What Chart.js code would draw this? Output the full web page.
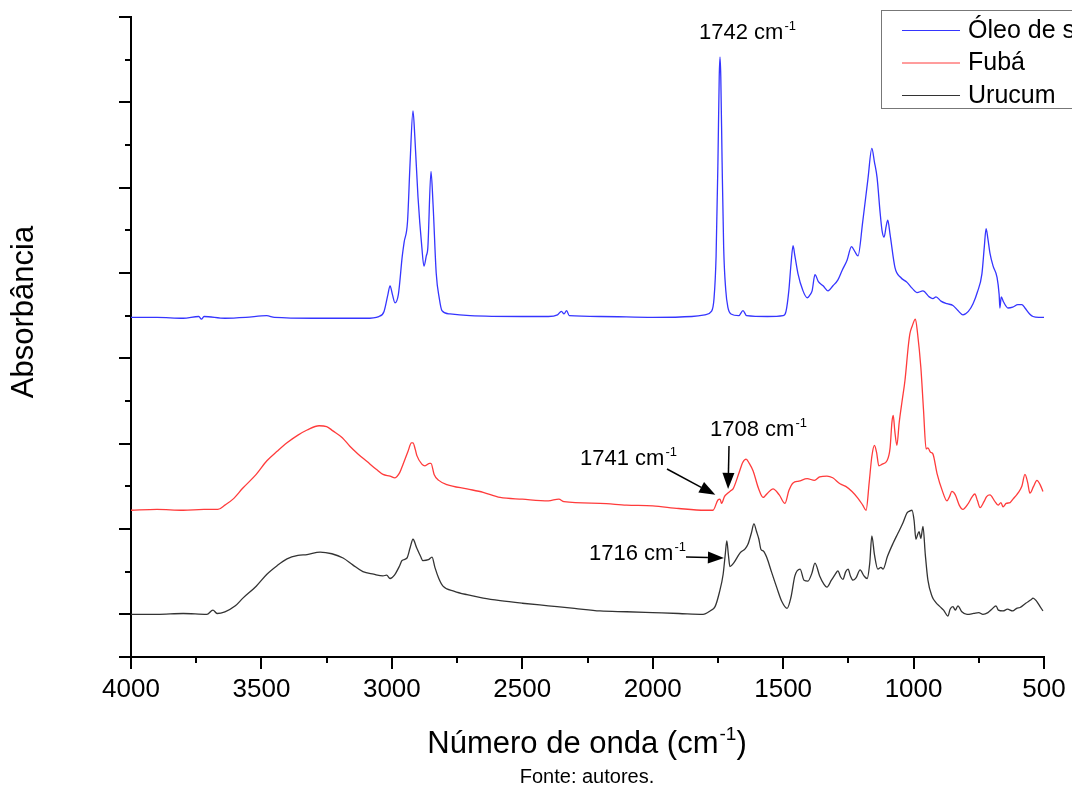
<!DOCTYPE html>
<html lang="pt">
<head>
<meta charset="UTF-8">
<title>Espectros FTIR</title>
<script src="https://cdn.jsdelivr.net/npm/chart.js"></script>
<style>
  body { margin: 0; background: #fff; }
  #grafico { display: block; }
</style>
</head>
<body>
<canvas id="grafico" width="1072" height="788"></canvas>
<script>
// Número de onda (cm-1) e absorbância (deslocada) de cada amostra
const oleoX = [4000, 3900, 3800, 3740, 3730, 3720, 3640, 3560, 3480, 3450, 3300, 3100, 3050, 3030, 3015, 3007, 2998, 2988, 2975, 2960, 2953, 2940, 2930, 2919, 2912, 2900, 2885, 2877, 2868, 2862, 2850, 2842, 2830, 2818, 2808, 2777, 2700, 2500, 2400, 2365, 2350, 2340, 2330, 2320, 2200, 2000, 1850, 1800, 1775, 1765, 1757, 1750, 1745, 1742, 1739, 1734, 1728, 1720, 1712, 1700, 1670, 1654, 1640, 1560, 1500, 1489, 1478, 1470, 1462, 1455, 1443, 1425, 1408, 1398, 1389, 1378, 1365, 1347, 1328, 1309, 1290, 1274, 1255, 1238, 1225, 1213, 1195, 1175, 1160, 1150, 1140, 1128, 1121, 1113, 1105, 1099, 1090, 1071, 1050, 1025, 1005, 987, 964, 940, 926, 914, 895, 872, 849, 830, 811, 790, 772, 755, 738, 729, 722, 715, 707, 695, 680, 672, 669, 664, 655, 638, 620, 600, 585, 573, 555, 542, 520, 500];
const oleoY = [3.48, 3.48, 3.47, 3.49, 3.46, 3.49, 3.47, 3.48, 3.50, 3.48, 3.47, 3.47, 3.49, 3.55, 3.75, 3.85, 3.75, 3.65, 3.75, 4.2, 4.36, 4.6, 5.3, 5.90, 5.6, 4.9, 4.3, 4.08, 4.2, 4.30, 5.19, 4.8, 4.0, 3.7, 3.56, 3.52, 3.50, 3.49, 3.49, 3.51, 3.55, 3.52, 3.56, 3.50, 3.49, 3.48, 3.49, 3.51, 3.55, 3.7, 4.2, 5.3, 6.3, 6.53, 6.3, 5.3, 4.3, 3.8, 3.6, 3.52, 3.50, 3.56, 3.50, 3.49, 3.50, 3.55, 3.8, 4.1, 4.32, 4.2, 3.99, 3.8, 3.71, 3.74, 3.79, 3.98, 3.9, 3.85, 3.79, 3.85, 3.92, 4.03, 4.15, 4.31, 4.25, 4.20, 4.6, 5.1, 5.46, 5.3, 5.12, 4.7, 4.50, 4.42, 4.55, 4.62, 4.45, 4.06, 3.95, 3.89, 3.82, 3.77, 3.79, 3.72, 3.70, 3.72, 3.67, 3.64, 3.62, 3.56, 3.51, 3.55, 3.64, 3.78, 3.99, 4.3, 4.52, 4.4, 4.23, 4.08, 3.95, 3.75, 3.59, 3.72, 3.66, 3.59, 3.60, 3.63, 3.63, 3.59, 3.52, 3.49, 3.48, 3.48];

const fubaX = [4000, 3900, 3800, 3720, 3667, 3640, 3609, 3571, 3520, 3479, 3440, 3402, 3360, 3325, 3279, 3250, 3226, 3190, 3161, 3130, 3095, 3060, 3034, 3007, 2988, 2970, 2957, 2938, 2925, 2919, 2910, 2904, 2885, 2873, 2855, 2850, 2838, 2820, 2789, 2712, 2650, 2585, 2500, 2400, 2360, 2340, 2202, 2100, 2000, 1900, 1800, 1769, 1750, 1742, 1736, 1725, 1716, 1700, 1692, 1670, 1655, 1642, 1630, 1615, 1595, 1577, 1560, 1539, 1515, 1493, 1478, 1462, 1440, 1408, 1380, 1360, 1332, 1310, 1282, 1260, 1236, 1213, 1195, 1182, 1170, 1160, 1150, 1142, 1133, 1120, 1102, 1090, 1083, 1078, 1072, 1064, 1055, 1044, 1033, 1020, 1014, 1005, 993, 985, 972, 962, 952, 945, 935, 926, 910, 890, 872, 862, 853, 840, 825, 811, 790, 775, 765, 755, 745, 730, 720, 707, 690, 676, 665, 657, 645, 630, 619, 605, 600, 585, 573, 563, 554, 540, 527, 515, 504];
const fubaY = [1.22, 1.23, 1.22, 1.23, 1.23, 1.28, 1.35, 1.48, 1.64, 1.80, 1.91, 2.01, 2.10, 2.16, 2.21, 2.20, 2.15, 2.07, 1.97, 1.88, 1.79, 1.70, 1.64, 1.62, 1.60, 1.66, 1.76, 1.91, 2.01, 2.01, 1.93, 1.86, 1.76, 1.74, 1.77, 1.77, 1.64, 1.57, 1.52, 1.47, 1.43, 1.37, 1.35, 1.33, 1.35, 1.32, 1.30, 1.28, 1.27, 1.24, 1.22, 1.22, 1.34, 1.35, 1.30, 1.38, 1.41, 1.45, 1.47, 1.65, 1.78, 1.82, 1.77, 1.68, 1.48, 1.37, 1.42, 1.47, 1.40, 1.30, 1.45, 1.54, 1.56, 1.59, 1.57, 1.61, 1.62, 1.60, 1.53, 1.50, 1.44, 1.36, 1.28, 1.22, 1.55, 1.85, 1.98, 1.90, 1.74, 1.76, 1.80, 1.95, 2.25, 2.33, 2.15, 1.98, 2.25, 2.50, 2.74, 3.15, 3.29, 3.38, 3.46, 3.30, 2.89, 2.40, 1.94, 1.95, 1.90, 1.88, 1.65, 1.45, 1.33, 1.38, 1.44, 1.40, 1.28, 1.23, 1.30, 1.38, 1.41, 1.33, 1.25, 1.32, 1.38, 1.40, 1.33, 1.28, 1.31, 1.26, 1.30, 1.31, 1.35, 1.40, 1.42, 1.50, 1.64, 1.55, 1.42, 1.50, 1.57, 1.52, 1.44];

const urucumX = [4000, 3900, 3800, 3709, 3686, 3670, 3640, 3600, 3571, 3520, 3479, 3440, 3402, 3360, 3325, 3275, 3230, 3187, 3150, 3111, 3070, 3034, 3020, 3007, 2990, 2970, 2961, 2942, 2930, 2919, 2905, 2890, 2881, 2860, 2846, 2835, 2820, 2804, 2760, 2712, 2650, 2585, 2500, 2400, 2300, 2202, 2100, 2000, 1900, 1807, 1780, 1761, 1745, 1730, 1722, 1716, 1710, 1704, 1690, 1665, 1645, 1635, 1622, 1612, 1602, 1593, 1585, 1575, 1562, 1545, 1524, 1505, 1485, 1470, 1455, 1435, 1420, 1405, 1390, 1378, 1360, 1345, 1332, 1315, 1300, 1290, 1280, 1271, 1260, 1251, 1242, 1232, 1220, 1205, 1190, 1178, 1168, 1160, 1150, 1137, 1125, 1117, 1100, 1079, 1060, 1041, 1025, 1015, 1006, 998, 991, 985, 979, 972, 964, 955, 945, 929, 915, 899, 885, 868, 860, 849, 840, 830, 815, 795, 770, 750, 734, 715, 700, 684, 675, 657, 640, 620, 605, 592, 570, 550, 542, 530, 515, 504];
const urucumY = [0.0, 0.0, 0.01, 0.0, 0.05, 0.01, 0.03, 0.10, 0.19, 0.33, 0.47, 0.57, 0.65, 0.69, 0.70, 0.73, 0.71, 0.66, 0.58, 0.50, 0.47, 0.45, 0.46, 0.42, 0.46, 0.57, 0.63, 0.66, 0.78, 0.88, 0.78, 0.68, 0.63, 0.64, 0.67, 0.55, 0.42, 0.33, 0.27, 0.23, 0.19, 0.16, 0.13, 0.10, 0.07, 0.04, 0.03, 0.02, 0.01, 0.0, 0.04, 0.09, 0.25, 0.47, 0.70, 0.86, 0.70, 0.56, 0.60, 0.72, 0.77, 0.82, 0.95, 1.06, 0.97, 0.88, 0.76, 0.74, 0.66, 0.50, 0.31, 0.15, 0.07, 0.20, 0.45, 0.53, 0.40, 0.39, 0.48, 0.60, 0.45, 0.36, 0.32, 0.40, 0.47, 0.51, 0.44, 0.41, 0.50, 0.53, 0.45, 0.40, 0.43, 0.52, 0.45, 0.42, 0.60, 0.92, 0.70, 0.53, 0.55, 0.53, 0.68, 0.83, 0.95, 1.07, 1.19, 1.21, 1.22, 1.10, 0.88, 0.93, 0.97, 0.89, 1.03, 0.70, 0.40, 0.21, 0.14, 0.09, 0.05, -0.02, 0.06, 0.09, 0.05, 0.10, 0.03, 0.0, 0.01, 0.02, 0.0, 0.02, 0.06, 0.10, 0.05, 0.04, 0.06, 0.04, 0.07, 0.08, 0.13, 0.17, 0.19, 0.16, 0.09, 0.04];

const amostras = ['Óleo de soja', 'Fubá', 'Urucum'];
const cores = ['#3535ff', '#ff3b3b', '#333333'];

const FONTE = '"Liberation Sans", Arial, sans-serif';

function pontos(xs, ys) {
    return xs.map((w, i) => ({ x: w, y: ys[i] }));
}

// texto com expoente (cm-1)
function textoSup(ctx, base, sup, depois, x, y, tam, alinhar) {
    const tamSup = Math.round(tam * 0.6);
    ctx.font = `${tam}px ${FONTE}`;
    const wb = ctx.measureText(base).width;
    const wd = ctx.measureText(depois).width;
    ctx.font = `${tamSup}px ${FONTE}`;
    const ws = ctx.measureText(sup).width;
    let x0 = alinhar === 'center' ? x - (wb + ws + wd + 1) / 2 : x;
    ctx.textAlign = 'left';
    ctx.textBaseline = 'alphabetic';
    ctx.font = `${tam}px ${FONTE}`;
    ctx.fillText(base, x0, y);
    ctx.font = `${tamSup}px ${FONTE}`;
    ctx.fillText(sup, x0 + wb + 1, y - tam * 0.42);
    ctx.font = `${tam}px ${FONTE}`;
    ctx.fillText(depois, x0 + wb + ws + 1, y);
}

function seta(ctx, x1, y1, x2, y2) {
    const ang = Math.atan2(y2 - y1, x2 - x1);
    const L = 16, W = 6;
    const bx = x2 - L * Math.cos(ang), by = y2 - L * Math.sin(ang);
    ctx.beginPath();
    ctx.moveTo(x1, y1);
    ctx.lineTo(bx, by);
    ctx.stroke();
    ctx.beginPath();
    ctx.moveTo(x2, y2);
    ctx.lineTo(bx + W * Math.sin(ang), by - W * Math.cos(ang));
    ctx.lineTo(bx - W * Math.sin(ang), by + W * Math.cos(ang));
    ctx.closePath();
    ctx.fill();
}

const extras = {
    id: 'extras',
    afterDraw(chart) {
        const { ctx, chartArea: a } = chart;
        const x = chart.scales.x, y = chart.scales.y;
        ctx.save();
        ctx.strokeStyle = '#000';
        ctx.fillStyle = '#000';
        ctx.lineWidth = 2;

        // marcas dos eixos (maiores e menores)
        for (let w = 500; w <= 4000; w += 250) {
            const px = Math.round(x.getPixelForValue(w));
            const len = w % 500 === 0 ? 12 : 6;
            ctx.beginPath();
            ctx.moveTo(px, a.bottom);
            ctx.lineTo(px, a.bottom + len);
            ctx.stroke();
        }
        for (let v = -0.5; v <= 7; v += 0.5) {
            const py = Math.round(y.getPixelForValue(v));
            const len = (Number.isInteger(v) || v === -0.5) ? 12 : 6;
            ctx.beginPath();
            ctx.moveTo(a.left, py);
            ctx.lineTo(a.left - len, py);
            ctx.stroke();
        }

        // títulos
        textoSup(ctx, 'Número de onda (cm', '-1', ')', 587, 753, 31, 'center');
        ctx.font = `20px ${FONTE}`;
        ctx.textAlign = 'center';
        ctx.fillText('Fonte: autores.', 587, 783);

        ctx.save();
        ctx.translate(24, 312);
        ctx.rotate(-Math.PI / 2);
        ctx.font = `31px ${FONTE}`;
        ctx.textAlign = 'center';
        ctx.textBaseline = 'middle';
        ctx.fillText('Absorbância', 0, 0);
        ctx.restore();

        // anotações dos picos
        textoSup(ctx, '1742 cm', '-1', '', x.getPixelForValue(1742) - 21, 39, 22, 'left');
        textoSup(ctx, '1708 cm', '-1', '', 710, 436, 22, 'left');
        textoSup(ctx, '1741 cm', '-1', '', 580, 465, 22, 'left');
        textoSup(ctx, '1716 cm', '-1', '', 589, 560, 22, 'left');
        ctx.lineWidth = 1.5;
        seta(ctx, 667, 469, x.getPixelForValue(1760), y.getPixelForValue(1.40));
        seta(ctx, 729, 446, x.getPixelForValue(1711), y.getPixelForValue(1.47));
        seta(ctx, 686, 557, x.getPixelForValue(1727), y.getPixelForValue(0.66));

        // legenda
        ctx.lineWidth = 1;
        ctx.strokeStyle = '#777';
        ctx.strokeRect(881.5, 10.5, 260, 98);
        ctx.font = `25px ${FONTE}`;
        ctx.textAlign = 'left';
        ctx.textBaseline = 'middle';
        amostras.forEach((nome, i) => {
            const ly = 30 + i * 32.5;
            ctx.strokeStyle = cores[i];
            ctx.beginPath();
            ctx.moveTo(902, ly + 0.5);
            ctx.lineTo(960, ly + 0.5);
            ctx.stroke();
            ctx.fillStyle = '#000';
            ctx.fillText(nome, 968, ly + 1);
        });
        ctx.restore();
    }
};

new Chart(document.getElementById('grafico'), {
    type: 'line',
    data: {
        datasets: [
            { label: amostras[0], data: pontos(oleoX, oleoY), borderColor: cores[0] },
            { label: amostras[1], data: pontos(fubaX, fubaY), borderColor: cores[1] },
            { label: amostras[2], data: pontos(urucumX, urucumY), borderColor: cores[2] }
        ]
    },
    options: {
        responsive: false,
        animation: false,
        devicePixelRatio: 1,
        layout: { padding: { top: 17, right: 28, left: 0, bottom: 0 } },
        elements: {
            point: { radius: 0 },
            line: { borderWidth: 1.3, cubicInterpolationMode: 'monotone' }
        },
        plugins: { legend: { display: false }, tooltip: { enabled: false } },
        scales: {
            x: {
                type: 'linear',
                reverse: true,
                min: 500,
                max: 4000,
                grid: { display: false, drawTicks: false },
                border: { display: true, color: '#000', width: 2 },
                ticks: {
                    stepSize: 500,
                    autoSkip: false,
                    maxRotation: 0,
                    padding: 17,
                    color: '#000',
                    font: { family: FONTE, size: 26 },
                    callback: v => String(v)
                },
                afterFit: s => {
                    s.height = 131;
                    s.paddingLeft = 0;
                    s.paddingRight = 0;
                }
            },
            y: {
                min: -0.5,
                max: 7,
                grid: { display: false, drawTicks: false },
                border: { display: true, color: '#000', width: 2 },
                ticks: { display: false },
                afterFit: s => { s.width = 131; }
            }
        }
    },
    plugins: [extras]
});
</script>
</body>
</html>
